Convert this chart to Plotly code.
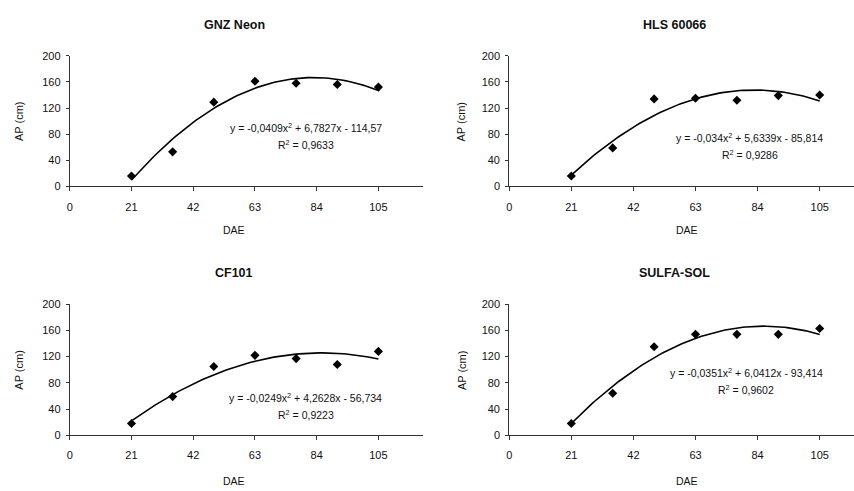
import numpy as np
import plotly.graph_objects as go

# ---- data ----
dae = [21, 35, 49, 63, 77, 91, 105]
titles = ["GNZ Neon", "HLS 60066", "CF101", "SULFA-SOL"]
ap_gnz = [16, 53, 129, 161, 158, 156, 152]
ap_hls = [16, 59, 134, 135, 132, 139, 140]
ap_cf = [18, 59, 105, 122, 117, 108, 128]
ap_sulfa = [18, 64, 135, 154, 154, 154, 163]
# trendline coefficients (a, b, c) for y = a x^2 + b x + c
coef_gnz = [-0.0409, 6.7827, -114.57]
coef_hls = [-0.034, 5.6339, -85.814]
coef_cf = [-0.0249, 4.2628, -56.734]
coef_sulfa = [-0.0351, 6.0412, -93.414]
eq_texts = [
    "y = -0,0409x<sup>2</sup> + 6,7827x - 114,57",
    "y = -0,034x<sup>2</sup> + 5,6339x - 85,814",
    "y = -0,0249x<sup>2</sup> + 4,2628x - 56,734",
    "y = -0,0351x<sup>2</sup> + 6,0412x - 93,414",
]
r2_texts = ["R<sup>2</sup> = 0,9633", "R<sup>2</sup> = 0,9286",
            "R<sup>2</sup> = 0,9223", "R<sup>2</sup> = 0,9602"]
x_ticks = [0, 21, 42, 63, 84, 105]
y_ticks = [0, 40, 80, 120, 160, 200]

series = [ap_gnz, ap_hls, ap_cf, ap_sulfa]
coefs = [coef_gnz, coef_hls, coef_cf, coef_sulfa]

W, H = 854, 491
FONT = "Liberation Sans, Arial, sans-serif"
TXT = "#111"


def px_x(p):
    return p / W


def px_y(p):
    return 1 - p / H


# panel plot areas in page pixels: (x0, x1, ytop, ybottom, xmax)
panels = [
    (67, 421, 51, 185, 120),
    (508, 854, 51, 185, 116.6),
    (67, 421, 305.7, 440, 120),
    (508, 854, 305.7, 440, 116.6),
]
eq_pos = [(80.2, 89.6), (81.4, 74.6), (80.2, 58), (80.2, 95.3)]

fig = go.Figure()
layout = dict(
    width=W, height=H, margin=dict(l=0, r=0, t=0, b=0),
    paper_bgcolor="white", plot_bgcolor="white", showlegend=False,
    font=dict(family=FONT, size=10, color=TXT),
)
annotations = []

for i in range(4):
    x0, x1, yt, yb, xmax = panels[i]
    sfx = "" if i == 0 else str(i + 1)
    xa, ya = "x" + sfx, "y" + sfx
    layout["xaxis" + sfx] = dict(
        domain=[max(0, px_x(x0)), min(1, px_x(x1))], range=[0, xmax], anchor=ya,
        tickvals=x_ticks, ticks="outside", ticklen=4, tickcolor="#333",
        ticklabelstandoff=6,
        showline=True, linecolor="#333", linewidth=1, showgrid=False,
        zeroline=False, tickfont=dict(size=11, family=FONT, color=TXT),
    )
    layout["yaxis" + sfx] = dict(
        domain=[px_y(yb), px_y(yt)], range=[0, 200], anchor=xa,
        tickvals=y_ticks, ticks="outside", ticklen=3, tickcolor="#333",
        ticklabelstandoff=3,
        showline=True, linecolor="#333", linewidth=1, showgrid=False,
        zeroline=False, tickfont=dict(size=11, family=FONT, color=TXT),
    )
    a, b, c = coefs[i]
    xs = np.linspace(dae[0], dae[-1], 85)
    ys = a * xs ** 2 + b * xs + c
    fig.add_trace(go.Scatter(x=xs, y=ys, mode="lines", xaxis=xa, yaxis=ya,
                             line=dict(color="black", width=1.6)))
    fig.add_trace(go.Scatter(x=dae, y=series[i], mode="markers", xaxis=xa, yaxis=ya,
                             marker=dict(symbol="diamond", size=7, color="black")))
    ex, ey = eq_pos[i]
    annotations.append(dict(x=ex, y=ey, xref=xa, yref=ya, text=eq_texts[i],
                            xanchor="center", yanchor="middle",
                            showarrow=False, font=dict(size=10.5, family=FONT, color=TXT)))
    annotations.append(dict(x=ex, y=ey, xref=xa, yref=ya, yshift=-17, text=r2_texts[i],
                            xanchor="center", yanchor="middle",
                            showarrow=False, font=dict(size=10.5, family=FONT, color=TXT)))
    # title
    cx = 232 if i % 2 == 0 else 674
    ty = 19 if i < 2 else 274
    annotations.append(dict(x=px_x(cx), y=px_y(ty), xref="paper", yref="paper",
                            xanchor="center", yanchor="middle",
                            text="<b>" + titles[i] + "</b>", showarrow=False,
                            font=dict(size=12.5, family=FONT, color=TXT)))
    # axis titles
    dy = 230 if i < 2 else 486.5
    dx = 232 if i % 2 == 0 else 686
    annotations.append(dict(x=px_x(dx), y=px_y(dy), xref="paper", yref="paper",
                            xanchor="center", yanchor="middle",
                            text="DAE", showarrow=False,
                            font=dict(size=10.5, family=FONT, color=TXT)))
    apx = 16 if i % 2 == 0 else 460
    apy = (yt + yb) / 2
    annotations.append(dict(x=px_x(apx), y=px_y(apy), xref="paper", yref="paper",
                            xanchor="center", yanchor="middle",
                            text="AP (cm)", showarrow=False, textangle=-90,
                            font=dict(size=11, family=FONT, color=TXT)))

layout["annotations"] = annotations
fig.update_layout(**layout)
fig.write_html("out.html", config={"displayModeBar": False},
               post_script="document.body.style.margin='0';document.body.style.overflow='hidden';")
